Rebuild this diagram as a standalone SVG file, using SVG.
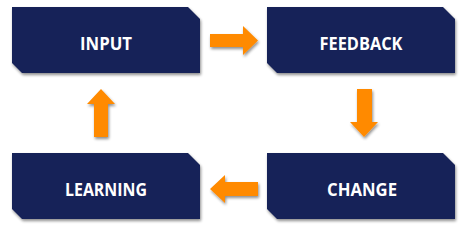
<svg xmlns="http://www.w3.org/2000/svg" width="468" height="229" viewBox="0 0 468 229">
<defs>
<filter id="sh" x="-10%" y="-10%" width="130%" height="140%">
<feGaussianBlur in="SourceAlpha" stdDeviation="1.5"/>
<feOffset dx="1" dy="2" result="b"/>
<feComponentTransfer><feFuncA type="linear" slope="0.45"/></feComponentTransfer>
<feMerge><feMergeNode/><feMergeNode in="SourceGraphic"/></feMerge>
</filter>
<path id="box" d="M0,0 H176 L188,12 V66 H10 L0,56 Z"/>
</defs>
<style>
.node use{fill:#172259;filter:url(#sh)}
.lbl{fill:#fff;font-family:"Open Sans","Liberation Sans",Arial,sans-serif;font-weight:bold;font-size:18px;text-anchor:middle}
.arr{fill:#ff8a00;filter:url(#sh)}
</style>
<g id="input" class="node"><use href="#box" x="12" y="7"/><text class="lbl" x="106" y="50" textLength="52" lengthAdjust="spacingAndGlyphs">INPUT</text></g>
<g id="feedback" class="node"><use href="#box" x="267" y="7"/><text class="lbl" x="361" y="50" textLength="83" lengthAdjust="spacingAndGlyphs">FEEDBACK</text></g>
<g id="learning" class="node"><use href="#box" x="12" y="153"/><text class="lbl" x="106" y="196" textLength="82" lengthAdjust="spacingAndGlyphs">LEARNING</text></g>
<g id="change" class="node"><use href="#box" x="267" y="153"/><text class="lbl" x="362" y="196" textLength="70" lengthAdjust="spacingAndGlyphs">CHANGE</text></g>
<g id="connectors">
<polygon class="arr" points="210,34 243,34 243,26 258,40.5 243,55 243,47 210,47"/>
<polygon class="arr" points="357,89 372,89 372,122 378,122 364,137 350,122 357,122"/>
<polygon class="arr" points="258,182 225,182 225,175 210,189 225,203 225,196 258,196"/>
<polygon class="arr" points="94,137 108,137 108,104 115,104 101,89 87,104 94,104"/>
</g>
</svg>
